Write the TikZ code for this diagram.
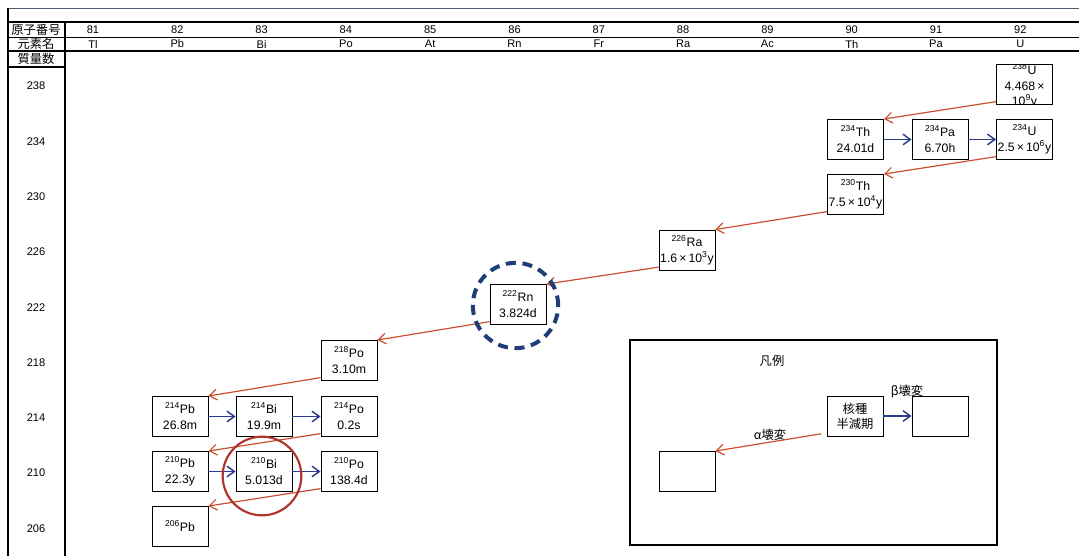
\documentclass[tikz,border=0pt]{standalone}
\usepackage{fontspec}
\setmainfont{Liberation Sans}
\newfontfamily\jp{Noto Sans CJK JP}
\usepackage{xcolor}
\usepackage{tikz}
\usetikzlibrary{arrows.meta,positioning,calc}
\definecolor{acol}{HTML}{C8502F}
\definecolor{bcol}{HTML}{2B3C8C}
\definecolor{rncol}{HTML}{1F3E78}
\definecolor{bicol}{HTML}{B0332A}
\definecolor{framecol}{HTML}{4A5A78}

\begin{document}
\begin{tikzpicture}[x=0.75pt,y=-0.75pt,
  nuc/.style={draw,line width=0.7pt,minimum width=42pt,minimum height=30pt,inner sep=0pt,align=center,font=\fontsize{9.2}{12}\selectfont},
  hdr/.style={font=\fontsize{8.3}{10}\selectfont},
  jhdr/.style={font=\jp\fontsize{9.2}{10}\selectfont},
  adecay/.style={-{Straight Barb[length=5.5pt,width=8pt]},acol,line width=0.9pt},
  bdecay/.style={-{Straight Barb[length=5.5pt,width=8pt]},bcol,line width=1.1pt}]
  \useasboundingbox (0,0) rectangle (1079,556);
  % table frame
  \draw[framecol,line width=0.5pt] (8,8) -- (1079,8);
  \draw[line width=0.9pt] (8,22) -- (1079,22);
  \draw[line width=0.6pt] (8,37) -- (1079,37);
  \draw[line width=0.9pt] (8,51) -- (1079,51);
  \draw[line width=0.9pt] (8,67) -- (65,67);
  \draw[line width=0.9pt] (8,8) -- (8,556);
  \draw[line width=0.9pt] (65,22) -- (65,556);
  \node[jhdr] (lz) at (36,29.5) {原子番号};
  \node[jhdr] (lel) at (36,44) {元素名};
  \node[jhdr] (lm) at (36,59) {質量数};
  \foreach \z/\el [count=\i from 0] in {81/Tl,82/Pb,83/Bi,84/Po,85/At,86/Rn,87/Fr,88/Ra,89/Ac,90/Th,91/Pa,92/U}{
    \node[hdr] (z\z) at (93+84.3*\i,29.5) {\z};
    \node[hdr] (el\z) at (93+84.3*\i,44) {\el};
  }
  \foreach \m [count=\i from 0] in {238,234,230,226,222,218,214,210,206}
    \node[hdr] (m\m) at (36,86+55.3*\i) {\m};

  % decay chain
  \node[nuc,path picture={\node[draw=none,inner sep=0pt,align=center,font=\fontsize{9.2}{11.5}\selectfont] at ([yshift=-1pt]path picture bounding box.center) {\textsuperscript{238}U\\4.468\,×\\10\textsuperscript{9}y};}] (u238) at (1024.5,84.5) {};
  \node[nuc] (th234) at (855.5,139.5) {\textsuperscript{234}Th\\24.01d};
  \node[nuc] (pa234) at (940,139.5) {\textsuperscript{234}Pa\\6.70h};
  \node[nuc] (u234) at (1024.5,139.5) {\textsuperscript{234}U\\2.5\,×\,10\textsuperscript{6}y};
  \node[nuc] (th230) at (855.5,194.5) {\textsuperscript{230}Th\\7.5\,×\,10\textsuperscript{4}y};
  \node[nuc] (ra226) at (687,250) {\textsuperscript{226}Ra\\1.6\,×\,10\textsuperscript{3}y};
  \node[nuc] (rn222) at (518,304.5) {\textsuperscript{222}Rn\\3.824d};
  \node[nuc] (po218) at (349,360.5) {\textsuperscript{218}Po\\3.10m};
  \node[nuc] (pb214) at (180,416.5) {\textsuperscript{214}Pb\\26.8m};
  \node[nuc] (bi214) at (264,416.5) {\textsuperscript{214}Bi\\19.9m};
  \node[nuc] (po214) at (349,416.5) {\textsuperscript{214}Po\\0.2s};
  \node[nuc] (pb210) at (180,471.5) {\textsuperscript{210}Pb\\22.3y};
  \node[nuc] (bi210) at (264,471.5) {\textsuperscript{210}Bi\\5.013d};
  \node[nuc] (po210) at (349,471.5) {\textsuperscript{210}Po\\138.4d};
  \node[nuc] (pb206) at (180,526.5) {\textsuperscript{206}Pb};

  \foreach \a/\b in {u238/th234,u234/th230,th230/ra226,ra226/rn222,rn222/po218,po218/pb214,po214/pb210,po210/pb206}
    \draw[adecay] ([yshift=2.5pt]\a.south west) -- (\b.north east);
  \foreach \a/\b in {th234/pa234,pa234/u234,pb214/bi214,bi214/po214,pb210/bi210,bi210/po210}
    \draw[bdecay] (\a) -- (\b);

  \node[draw=rncol,line width=3pt,dash pattern=on 7.5pt off 5pt,circle,minimum size=64pt] (rnmark) at (515.5,305.5) {};
  \node[draw=bicol,line width=1.6pt,circle,minimum size=59pt] (bimark) at (262,476) {};

  % legend
  \draw[line width=0.8pt] (630,340) rectangle (997,545);
  \node[jhdr] (legtitle) at (772,361) {凡例};
  \node[nuc,font=\jp\fontsize{9.2}{11.25}\selectfont] (key) at (855,416) {核種\\半減期};
  \node[nuc] (kbeta) at (940,416) {};
  \node[nuc] (kalpha) at (687,471.5) {};
  \node[jhdr] (blab) at (907,392) {β壊変};
  \node[jhdr] (alab) at (770,435) {α壊変};
  \draw[adecay] ([yshift=2pt,xshift=-4pt]key.south west) -- (kalpha.north east);
  \draw[bdecay] (key) -- (kbeta);
\end{tikzpicture}
\end{document}
